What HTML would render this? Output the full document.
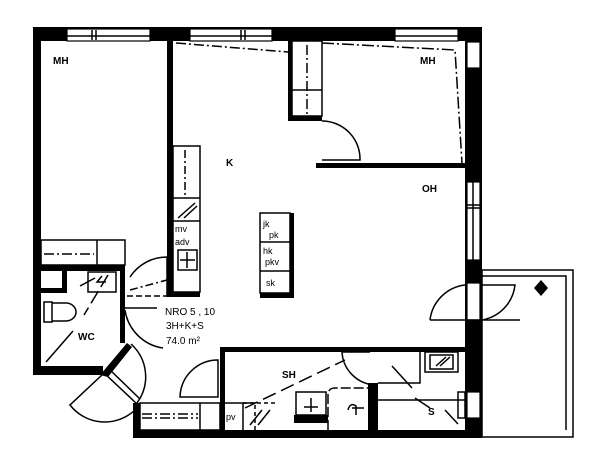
<!DOCTYPE html>
<html><head><style>
html,body{margin:0;padding:0;background:#fff;}
svg{display:block;}
text{font-family:"Liberation Sans",sans-serif;fill:#000;}
</style></head><body>
<svg width="600" height="472" viewBox="0 0 600 472" xmlns="http://www.w3.org/2000/svg">
<rect width="600" height="472" fill="#fff"/>
<g fill="#000">
<rect x="33" y="27" width="449" height="14"/>
<rect x="33" y="27" width="8" height="348"/>
<rect x="167" y="41" width="6" height="200"/>
<rect x="167" y="241" width="6" height="56"/>
<rect x="465" y="27" width="17" height="410"/>
<rect x="316" y="163" width="149" height="5"/>
<rect x="288" y="41" width="4" height="80"/>
<rect x="288" y="116" width="34" height="5"/>
<rect x="41" y="265" width="84" height="6"/>
<rect x="120" y="265" width="5" height="78"/>
<rect x="33" y="366" width="70" height="9"/>
<polygon points="100,375 106,368 127,343 132,347 108,377"/>
<rect x="62" y="271" width="5" height="22"/>
<rect x="41" y="288" width="26" height="5"/>
<rect x="133" y="403" width="7" height="35"/>
<rect x="133" y="430" width="349" height="8"/>
<rect x="220" y="347" width="5" height="90"/>
<rect x="220" y="347" width="245" height="5"/>
<rect x="368" y="383" width="10" height="50"/>
<rect x="294" y="415" width="34" height="8"/>
<rect x="167" y="292" width="33" height="5"/>
<rect x="290" y="213" width="4" height="85"/>
<rect x="260" y="293" width="34" height="5"/>
</g>
<g fill="#fff" stroke="#000" stroke-width="1.2">
<rect x="67" y="29" width="83" height="12"/>
<rect x="190" y="29" width="82" height="12"/>
<rect x="395" y="29" width="63" height="12"/>
<rect x="467" y="42" width="13" height="26"/>
<rect x="467" y="182" width="13" height="78"/>
<rect x="467" y="283" width="13" height="37"/>
<rect x="467" y="392" width="13" height="26"/>
</g>
<g stroke="#000" stroke-width="1.5" fill="none">
<line x1="67" y1="36" x2="150" y2="36"/><line x1="92" y1="30" x2="92" y2="40"/><line x1="96" y1="30" x2="96" y2="40"/>
<line x1="190" y1="36" x2="272" y2="36"/><line x1="241" y1="30" x2="241" y2="40"/><line x1="245" y1="30" x2="245" y2="40"/>
<line x1="395" y1="36" x2="458" y2="36"/>
<line x1="473" y1="182" x2="473" y2="260"/><line x1="467" y1="205" x2="480" y2="205"/><line x1="467" y1="208" x2="480" y2="208"/>
<path d="M176,43 L288,52" stroke-dasharray="10,3,2,3"/>
<path d="M322,43 L455,50 L462,163" stroke-dasharray="12,3,2,3"/>
<path d="M307,45 V116" stroke-dasharray="10,3,2,3"/>
<rect x="292" y="41" width="30" height="75"/>
<line x1="292" y1="90" x2="322" y2="90"/>
<path d="M322,121 A38,38 0 0 1 360,160 L322,160"/>
<path d="M130,277 A44,44 0 0 1 167,257 L167,297"/>
<path d="M125,310 A45,45 0 0 0 163,348"/>
<path d="M125,308 L157,308"/>
<path d="M180,397 A38,38 0 0 1 218,360 L218,397 Z"/>
<path d="M430,320 A40,40 0 0 1 465,285"/>
<path d="M430,320 L520,320"/>
<path d="M482,285 L515,285 A40,40 0 0 1 482,320"/>
<path d="M342,352 A35,35 0 0 0 375,385"/>
<path d="M342,352 L370,352"/>
<path d="M103,372 L137,404 M107,367 L140,399"/>
<path d="M131,344 A44,44 0 0 1 137,403"/>
<path d="M103,374 L70,405 A44,44 0 0 0 135,410"/>
<rect x="173" y="146" width="27" height="146"/>
<path d="M185,150 V198" stroke-dasharray="8,3,2,3"/>
<line x1="173" y1="198" x2="200" y2="198"/>
<line x1="173" y1="221" x2="200" y2="221"/>
<line x1="178" y1="218" x2="195" y2="203"/><line x1="184" y1="218" x2="197" y2="206"/>
<rect x="178" y="250" width="19" height="20"/>
<line x1="187" y1="252" x2="187" y2="268"/><line x1="180" y1="260" x2="195" y2="260"/>
<rect x="260" y="213" width="30" height="80"/>
<line x1="260" y1="242" x2="290" y2="242"/>
<line x1="260" y1="271" x2="290" y2="271"/>
<rect x="41" y="240" width="84" height="25"/>
<line x1="97" y1="240" x2="97" y2="265"/>
<path d="M44,254 H94" stroke-dasharray="10,3,2,3"/>
<rect x="88" y="272" width="28" height="20"/>
<rect x="44" y="302" width="8" height="20"/>
<path d="M52,303 H66 A10,9 0 0 1 66,321 H52"/>
<line x1="108" y1="275" x2="84" y2="315" stroke-dasharray="14,5"/>
<line x1="73" y1="331" x2="46" y2="362"/>
<path d="M80,286 L95,278 M102,276 L97,282 L106,282"/>
<path d="M130,290 L167,280" stroke-dasharray="8,3,2,3"/>
<path d="M127,296 H167" stroke-dasharray="6,3"/>
<rect x="140" y="403" width="80" height="27"/>
<line x1="200" y1="403" x2="200" y2="430"/>
<path d="M142,414 H198 M142,418 H198" stroke-dasharray="10,3,2,3"/>
<line x1="225" y1="403" x2="255" y2="403"/>
<line x1="243" y1="403" x2="243" y2="430"/>
<path d="M255,405 V430 M243,403 H275" stroke-dasharray="4,3"/>
<path d="M250,425 L262,410 M258,425 L270,410"/>
<path d="M245,408 L345,360" stroke-dasharray="14,6"/>
<rect x="296" y="392" width="30" height="23"/>
<line x1="311" y1="398" x2="311" y2="412"/><line x1="304" y1="407" x2="318" y2="407"/>
<path d="M328,430 V395 Q328,388 335,388 H368" stroke-dasharray="10,3"/>
<path d="M348,410 Q350,402 356,406 V415 M352,408 H364"/>
<path d="M378,383 H420 V352 M378,400 H465"/>
<rect x="425" y="352" width="33" height="20"/>
<rect x="430" y="355" width="23" height="14"/>
<path d="M436,366 L446,357 M440,366 L450,357"/>
<path d="M392,366 L412,388"/><path d="M445,410 L458,424"/><path d="M415,398 L430,408"/>
<rect x="458" y="392" width="7" height="26"/>
<rect x="482" y="270" width="91" height="167"/>
<path d="M482,276 H566 V430"/>
</g>
<polygon points="541,280 548,288 541,296 534,288" fill="#000"/>
<g font-weight="bold">
<text x="53" y="64" font-size="10">MH</text>
<text x="420" y="64" font-size="10">MH</text>
<text x="226" y="166" font-size="10">K</text>
<text x="422" y="192" font-size="10">OH</text>
<text x="78" y="340" font-size="10">WC</text>
<text x="282" y="378" font-size="10">SH</text>
<text x="428" y="415" font-size="10">S</text>
</g>
<text x="263" y="227" font-size="9">jk</text>
<text x="269" y="238" font-size="9">pk</text>
<text x="263" y="254" font-size="9">hk</text>
<text x="265" y="265" font-size="9">pkv</text>
<text x="266" y="286" font-size="9">sk</text>
<text x="175" y="232" font-size="9">mv</text>
<text x="175" y="245" font-size="9">adv</text>
<text x="226" y="420" font-size="9">pv</text>
<text x="165" y="315" font-size="10">NRO  5 , 10</text>
<text x="166" y="329" font-size="10">3H+K+S</text>
<text x="166" y="344" font-size="10">74.0 m²</text>
</svg>
</body></html>
